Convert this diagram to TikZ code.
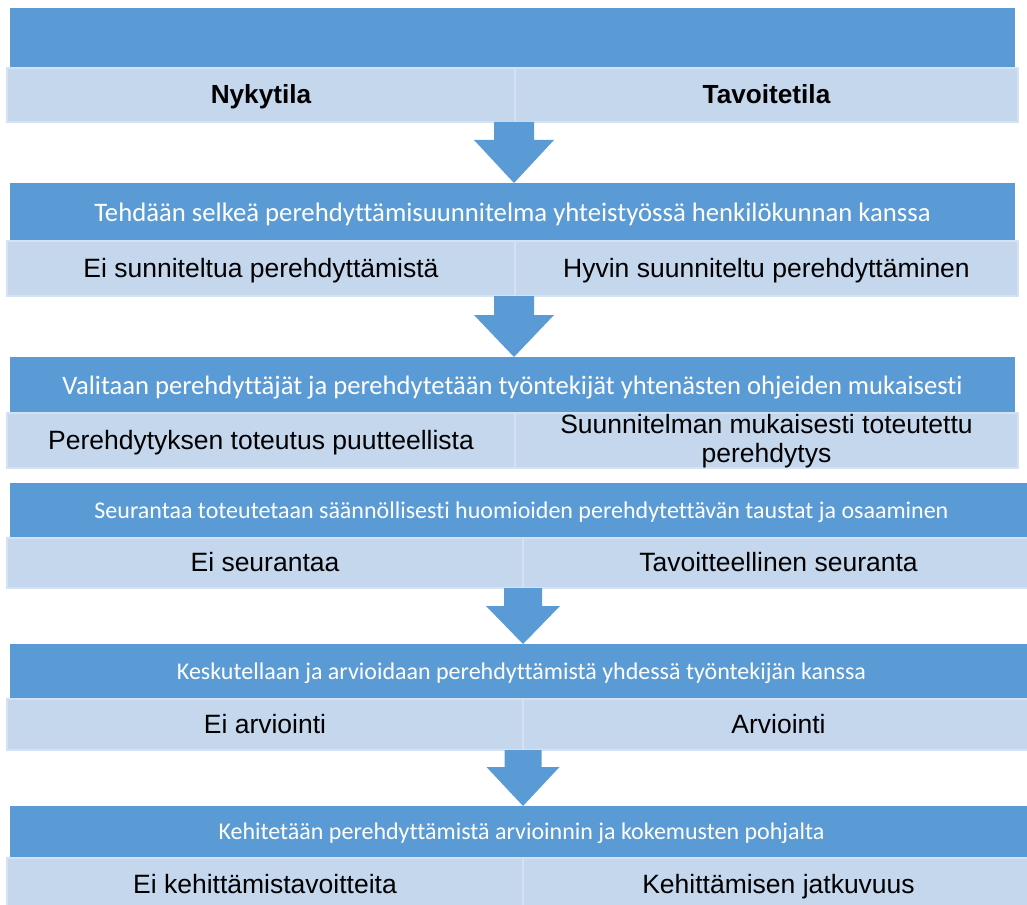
\documentclass[tikz,border=0pt]{standalone}
\usepackage{fontspec}
\setmainfont{Liberation Sans}
\newfontfamily\calibrifont[Ligatures=NoCommon]{Carlito}
\usetikzlibrary{calc}
\definecolor{bandblue}{HTML}{5B9BD5}
\definecolor{cellblue}{RGB}{197,215,237}
\definecolor{celledge}{RGB}{213,226,243}

% block arrow pointing down: #1 start, #2 tip, #3 shaft half width,
% #4 head half width, #5 head length
\newcommand\flowarrow[5]{%
  \fill[bandblue] ($(#1)+(-#3,0)$) -- ($(#1)+(#3,0)$) -- ($(#2)+(#3,-#5)$)
    -- ($(#2)+(#4,-#5)$) -- (#2) -- ($(#2)+(-#4,-#5)$) -- ($(#2)+(-#3,-#5)$) -- cycle;}

\begin{document}
\begin{tikzpicture}[x=1pt,y=-1pt,
  box/.style={anchor=north west,inner sep=0pt,outer sep=0pt,rectangle},
  band/.style={box,fill=bandblue,text=white},
  cell/.style={box,fill=cellblue,draw=celledge,line width=1.2pt,
    font=\fontsize{26.5}{29}\selectfont,text height=17.8pt,text depth=0pt},
  headcell/.style={cell,font=\fontsize{26.2}{29}\selectfont\bfseries},
  hd/.style={font=\calibrifont\fontsize{#1}{#1}\selectfont,text depth=0pt}]
\clip (0,0) rectangle (1027,904);
\fill[white] (0,0) rectangle (1027,904);

% column positions of the arrows
\coordinate (colA) at (514,0);
\coordinate (colB) at (523,0);

% row 1
\node[band,minimum width=1005pt,minimum height=60pt] (d1) at (10,8) {};
\node[headcell,minimum width=508pt,minimum height=54pt] (n1) at (7,68) {Nykytila};
\node[headcell,minimum width=503pt,minimum height=54pt] (t1) at (515,68) {Tavoitetila};

% row 2
\node[band,hd=26.7,text height=18pt,minimum width=1005pt,minimum height=58pt] (d2) at (10,183)
  {Tehdään selkeä perehdyttämisuunnitelma yhteistyössä henkilökunnan kanssa};
\node[cell,minimum width=508pt,minimum height=55pt] (n2) at (7,241) {Ei sunniteltua perehdyttämistä};
\node[cell,minimum width=503pt,minimum height=55pt] (t2) at (515,241) {Hyvin suunniteltu perehdyttäminen};

% row 3
\node[band,hd=26.6,text height=18.6pt,minimum width=1005pt,minimum height=56pt] (d3) at (10,357)
  {Valitaan perehdyttäjät ja perehdytetään työntekijät yhtenästen ohjeiden mukaisesti};
\node[cell,minimum width=508pt,minimum height=55pt] (n3) at (7,413) {Perehdytyksen toteutus puutteellista};
\node[cell,text height=43pt,minimum width=503pt,minimum height=55pt] (t3) at (515,413)
  {\begin{tabular}[b]{@{}c@{}}Suunnitelman mukaisesti toteutettu\\perehdytys\end{tabular}};

% row 4
\node[band,hd=24,text height=15.6pt,minimum width=1023pt,minimum height=55pt] (d4) at (10,483)
  {Seurantaa toteutetaan säännöllisesti huomioiden perehdytettävän taustat ja osaaminen};
\node[cell,minimum width=516pt,minimum height=50pt] (n4) at (7,538) {Ei seurantaa};
\node[cell,minimum width=511pt,minimum height=50pt] (t4) at (523,538) {Tavoitteellinen seuranta};

% row 5
\node[band,hd=24,text height=15.6pt,minimum width=1023pt,minimum height=55pt] (d5) at (10,644)
  {Keskutellaan ja arvioidaan perehdyttämistä yhdessä työntekijän kanssa};
\node[cell,minimum width=516pt,minimum height=51pt] (n5) at (7,699) {Ei arviointi};
\node[cell,minimum width=511pt,minimum height=51pt] (t5) at (523,699) {Arviointi};

% row 6
\node[band,hd=24,text height=14.6pt,minimum width=1023pt,minimum height=52pt] (d6) at (10,806)
  {Kehitetään perehdyttämistä arvioinnin ja kokemusten pohjalta};
\node[cell,minimum width=516pt,minimum height=54pt] (n6) at (7,858) {Ei kehittämistavoitteita};
\node[cell,minimum width=511pt,minimum height=54pt] (t6) at (523,858) {Kehittämisen jatkuvuus};

% arrows between the rows
\flowarrow{n1.south -| colA}{d2.north -| colA}{20}{40}{43}
\flowarrow{n2.south -| colA}{d3.north -| colA}{20}{40}{42}
\flowarrow{n4.south -| colB}{d5.north -| colB}{19}{37}{38}
\flowarrow{n5.south -| colB}{d6.north -| colB}{18.5}{36.5}{39}
\end{tikzpicture}
\end{document}
